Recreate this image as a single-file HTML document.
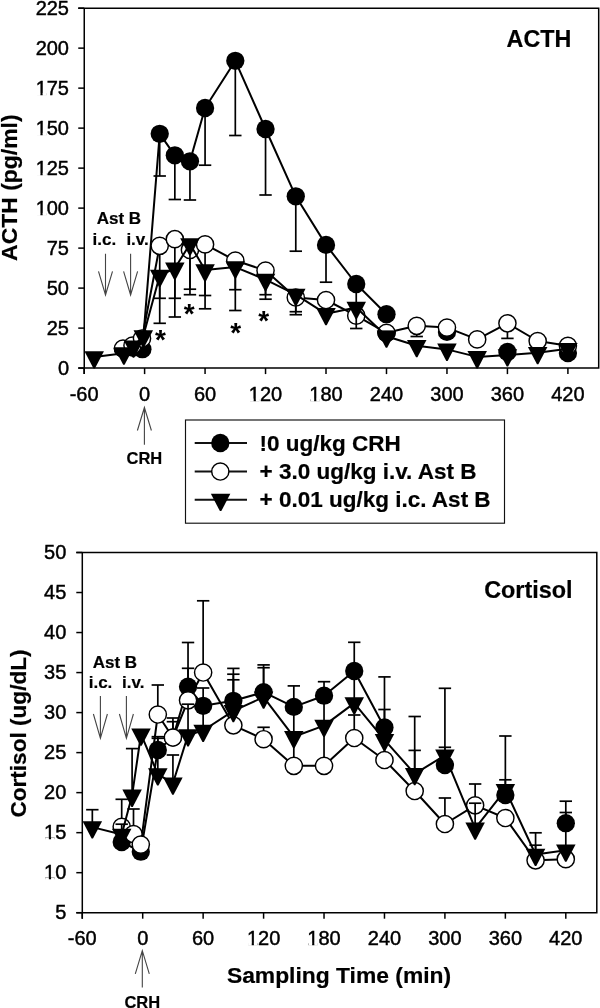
<!DOCTYPE html>
<html><head><meta charset="utf-8"><title>ACTH and Cortisol</title>
<style>html,body{margin:0;padding:0;background:#fff;}svg{display:block;font-family:"Liberation Sans",sans-serif;filter:grayscale(100%);}</style>
</head><body>
<svg width="600" height="1008" viewBox="0 0 600 1008"><rect width="600" height="1008" fill="#fff"/><g stroke="#000" stroke-width="1.5" fill="none"><path d="M78.25,8.15H598.70V368.10H78.25M84.25,8.15V374.10"/><line x1="78.25" y1="8.15" x2="84.25" y2="8.15"/><line x1="78.25" y1="48.14" x2="84.25" y2="48.14"/><line x1="78.25" y1="88.14" x2="84.25" y2="88.14"/><line x1="78.25" y1="128.13" x2="84.25" y2="128.13"/><line x1="78.25" y1="168.13" x2="84.25" y2="168.13"/><line x1="78.25" y1="208.12" x2="84.25" y2="208.12"/><line x1="78.25" y1="248.12" x2="84.25" y2="248.12"/><line x1="78.25" y1="288.11" x2="84.25" y2="288.11"/><line x1="78.25" y1="328.11" x2="84.25" y2="328.11"/><line x1="78.25" y1="368.10" x2="84.25" y2="368.10"/><line x1="84.13" y1="368.10" x2="84.13" y2="374.10"/><line x1="144.60" y1="368.10" x2="144.60" y2="374.10"/><line x1="205.07" y1="368.10" x2="205.07" y2="374.10"/><line x1="265.54" y1="368.10" x2="265.54" y2="374.10"/><line x1="326.01" y1="368.10" x2="326.01" y2="374.10"/><line x1="386.49" y1="368.10" x2="386.49" y2="374.10"/><line x1="446.96" y1="368.10" x2="446.96" y2="374.10"/><line x1="507.43" y1="368.10" x2="507.43" y2="374.10"/><line x1="567.90" y1="368.10" x2="567.90" y2="374.10"/></g><g font-family="Liberation Sans" font-size="20" text-anchor="end" fill="#000" stroke="#000" stroke-width="0.45"><text x="69.0" y="14.95">225</text><text x="69.0" y="54.94">200</text><text x="69.0" y="94.94">175</text><text x="69.0" y="134.93">150</text><text x="69.0" y="174.93">125</text><text x="69.0" y="214.92">100</text><text x="69.0" y="254.92">75</text><text x="69.0" y="294.91">50</text><text x="69.0" y="334.91">25</text><text x="69.0" y="374.90">0</text></g><g font-family="Liberation Sans" font-size="20" text-anchor="middle" fill="#000" stroke="#000" stroke-width="0.45"><text x="84.13" y="400.7">-60</text><text x="144.60" y="400.7">0</text><text x="205.07" y="400.7">60</text><text x="265.54" y="400.7">120</text><text x="326.01" y="400.7">180</text><text x="386.49" y="400.7">240</text><text x="446.96" y="400.7">300</text><text x="507.43" y="400.7">360</text><text x="567.90" y="400.7">420</text></g><g stroke="#000" stroke-width="1.5" fill="none"><path d="M76.30,552.50H596.80V912.70H76.30M82.30,552.50V918.70"/><line x1="76.30" y1="552.50" x2="82.30" y2="552.50"/><line x1="76.30" y1="592.52" x2="82.30" y2="592.52"/><line x1="76.30" y1="632.54" x2="82.30" y2="632.54"/><line x1="76.30" y1="672.57" x2="82.30" y2="672.57"/><line x1="76.30" y1="712.59" x2="82.30" y2="712.59"/><line x1="76.30" y1="752.61" x2="82.30" y2="752.61"/><line x1="76.30" y1="792.63" x2="82.30" y2="792.63"/><line x1="76.30" y1="832.66" x2="82.30" y2="832.66"/><line x1="76.30" y1="872.68" x2="82.30" y2="872.68"/><line x1="76.30" y1="912.70" x2="82.30" y2="912.70"/><line x1="82.26" y1="912.70" x2="82.26" y2="918.70"/><line x1="142.70" y1="912.70" x2="142.70" y2="918.70"/><line x1="203.14" y1="912.70" x2="203.14" y2="918.70"/><line x1="263.59" y1="912.70" x2="263.59" y2="918.70"/><line x1="324.03" y1="912.70" x2="324.03" y2="918.70"/><line x1="384.47" y1="912.70" x2="384.47" y2="918.70"/><line x1="444.91" y1="912.70" x2="444.91" y2="918.70"/><line x1="505.36" y1="912.70" x2="505.36" y2="918.70"/><line x1="565.80" y1="912.70" x2="565.80" y2="918.70"/></g><g font-family="Liberation Sans" font-size="20" text-anchor="end" fill="#000" stroke="#000" stroke-width="0.45"><text x="66.3" y="559.20">50</text><text x="66.3" y="599.22">45</text><text x="66.3" y="639.24">40</text><text x="66.3" y="679.27">35</text><text x="66.3" y="719.29">30</text><text x="66.3" y="759.31">25</text><text x="66.3" y="799.33">20</text><text x="66.3" y="839.36">15</text><text x="66.3" y="879.38">10</text><text x="66.3" y="919.40">5</text></g><g font-family="Liberation Sans" font-size="20" text-anchor="middle" fill="#000" stroke="#000" stroke-width="0.45"><text x="82.26" y="944.8">-60</text><text x="142.70" y="944.8">0</text><text x="203.14" y="944.8">60</text><text x="263.59" y="944.8">120</text><text x="324.03" y="944.8">180</text><text x="384.47" y="944.8">240</text><text x="444.91" y="944.8">300</text><text x="505.36" y="944.8">360</text><text x="565.80" y="944.8">420</text></g><g fill="#fff"><rect x="36.78" y="92.94" width="3.65" height="2.95"/><rect x="42.63" y="92.94" width="3.50" height="2.95"/><rect x="36.78" y="132.93" width="3.65" height="2.95"/><rect x="42.63" y="132.93" width="3.50" height="2.95"/><rect x="36.78" y="172.93" width="3.65" height="2.95"/><rect x="42.63" y="172.93" width="3.50" height="2.95"/><rect x="36.78" y="212.92" width="3.65" height="2.95"/><rect x="42.63" y="212.92" width="3.50" height="2.95"/><rect x="45.20" y="837.36" width="3.65" height="2.95"/><rect x="51.05" y="837.36" width="3.50" height="2.95"/><rect x="45.20" y="877.38" width="3.65" height="2.95"/><rect x="51.05" y="877.38" width="3.50" height="2.95"/><rect x="250.01" y="398.70" width="3.65" height="2.95"/><rect x="255.86" y="398.70" width="3.50" height="2.95"/><rect x="310.48" y="398.70" width="3.65" height="2.95"/><rect x="316.33" y="398.70" width="3.50" height="2.95"/><rect x="248.05" y="942.80" width="3.65" height="2.95"/><rect x="253.90" y="942.80" width="3.50" height="2.95"/><rect x="308.49" y="942.80" width="3.65" height="2.95"/><rect x="314.34" y="942.80" width="3.50" height="2.95"/></g><polyline fill="none" stroke="#000" stroke-width="2.0" stroke-linejoin="round" points="133.00,347.90 142.40,349.20 159.72,133.80 174.84,155.30 189.95,161.30 205.07,108.00 235.31,60.80 265.54,129.00 295.78,196.30 326.01,244.90 356.25,284.00 386.49,314.20"/><g stroke="#000" stroke-width="1.7"><line x1="159.72" y1="133.80" x2="159.72" y2="176.00"/><line x1="153.52" y1="176.00" x2="165.92" y2="176.00"/><line x1="174.84" y1="155.30" x2="174.84" y2="199.50"/><line x1="168.64" y1="199.50" x2="181.04" y2="199.50"/><line x1="189.95" y1="161.30" x2="189.95" y2="200.00"/><line x1="183.75" y1="200.00" x2="196.15" y2="200.00"/><line x1="205.07" y1="108.00" x2="205.07" y2="165.20"/><line x1="198.87" y1="165.20" x2="211.27" y2="165.20"/><line x1="235.31" y1="60.80" x2="235.31" y2="135.50"/><line x1="229.11" y1="135.50" x2="241.51" y2="135.50"/><line x1="265.54" y1="129.00" x2="265.54" y2="195.00"/><line x1="259.34" y1="195.00" x2="271.74" y2="195.00"/><line x1="295.78" y1="196.30" x2="295.78" y2="251.20"/><line x1="289.58" y1="251.20" x2="301.98" y2="251.20"/><line x1="326.01" y1="244.90" x2="326.01" y2="282.20"/><line x1="319.81" y1="282.20" x2="332.21" y2="282.20"/><line x1="356.25" y1="284.00" x2="356.25" y2="312.00"/><line x1="350.05" y1="312.00" x2="362.45" y2="312.00"/></g><g fill="#000"><circle cx="133.00" cy="347.90" r="9.15"/><circle cx="142.40" cy="349.20" r="9.15"/><circle cx="159.72" cy="133.80" r="9.15"/><circle cx="174.84" cy="155.30" r="9.15"/><circle cx="189.95" cy="161.30" r="9.15"/><circle cx="205.07" cy="108.00" r="9.15"/><circle cx="235.31" cy="60.80" r="9.15"/><circle cx="265.54" cy="129.00" r="9.15"/><circle cx="295.78" cy="196.30" r="9.15"/><circle cx="326.01" cy="244.90" r="9.15"/><circle cx="356.25" cy="284.00" r="9.15"/><circle cx="386.49" cy="314.20" r="9.15"/><circle cx="446.96" cy="331.90" r="9.15"/><circle cx="507.43" cy="352.00" r="9.15"/><circle cx="567.90" cy="353.00" r="9.15"/></g><polyline fill="none" stroke="#000" stroke-width="2.0" stroke-linejoin="round" points="123.00,348.50 132.50,345.50 142.00,338.50 159.72,245.80 174.84,239.20 189.95,250.00 205.07,244.40 235.31,260.50 265.54,270.50 295.78,297.50 326.01,300.00 356.25,315.70 386.49,332.80 416.72,325.80 446.96,327.60 477.19,339.40 507.43,323.30 537.67,341.00 567.90,345.80"/><g stroke="#000" stroke-width="1.7"><line x1="159.72" y1="245.80" x2="159.72" y2="298.30"/><line x1="153.52" y1="298.30" x2="165.92" y2="298.30"/><line x1="174.84" y1="239.20" x2="174.84" y2="298.30"/><line x1="168.64" y1="298.30" x2="181.04" y2="298.30"/><line x1="189.95" y1="250.00" x2="189.95" y2="289.20"/><line x1="183.75" y1="289.20" x2="196.15" y2="289.20"/><line x1="205.07" y1="244.40" x2="205.07" y2="295.50"/><line x1="198.87" y1="295.50" x2="211.27" y2="295.50"/><line x1="235.31" y1="260.50" x2="235.31" y2="289.70"/><line x1="229.11" y1="289.70" x2="241.51" y2="289.70"/><line x1="265.54" y1="270.50" x2="265.54" y2="294.70"/><line x1="259.34" y1="294.70" x2="271.74" y2="294.70"/><line x1="295.78" y1="297.50" x2="295.78" y2="311.70"/><line x1="289.58" y1="311.70" x2="301.98" y2="311.70"/><line x1="416.72" y1="325.80" x2="416.72" y2="336.50"/><line x1="410.52" y1="336.50" x2="422.92" y2="336.50"/><line x1="507.43" y1="323.30" x2="507.43" y2="338.40"/><line x1="501.23" y1="338.40" x2="513.63" y2="338.40"/></g><circle cx="123.00" cy="348.50" r="8.6" fill="#fff" stroke="#000" stroke-width="1.45"/><circle cx="132.50" cy="345.50" r="8.6" fill="#fff" stroke="#000" stroke-width="1.45"/><circle cx="142.00" cy="338.50" r="8.6" fill="#fff" stroke="#000" stroke-width="1.45"/><circle cx="159.72" cy="245.80" r="8.6" fill="#fff" stroke="#000" stroke-width="1.45"/><circle cx="174.84" cy="239.20" r="8.6" fill="#fff" stroke="#000" stroke-width="1.45"/><circle cx="189.95" cy="250.00" r="8.6" fill="#fff" stroke="#000" stroke-width="1.45"/><circle cx="205.07" cy="244.40" r="8.6" fill="#fff" stroke="#000" stroke-width="1.45"/><circle cx="235.31" cy="260.50" r="8.6" fill="#fff" stroke="#000" stroke-width="1.45"/><circle cx="265.54" cy="270.50" r="8.6" fill="#fff" stroke="#000" stroke-width="1.45"/><circle cx="295.78" cy="297.50" r="8.6" fill="#fff" stroke="#000" stroke-width="1.45"/><circle cx="326.01" cy="300.00" r="8.6" fill="#fff" stroke="#000" stroke-width="1.45"/><circle cx="356.25" cy="315.70" r="8.6" fill="#fff" stroke="#000" stroke-width="1.45"/><circle cx="386.49" cy="332.80" r="8.6" fill="#fff" stroke="#000" stroke-width="1.45"/><circle cx="416.72" cy="325.80" r="8.6" fill="#fff" stroke="#000" stroke-width="1.45"/><circle cx="446.96" cy="327.60" r="8.6" fill="#fff" stroke="#000" stroke-width="1.45"/><circle cx="477.19" cy="339.40" r="8.6" fill="#fff" stroke="#000" stroke-width="1.45"/><circle cx="507.43" cy="323.30" r="8.6" fill="#fff" stroke="#000" stroke-width="1.45"/><circle cx="537.67" cy="341.00" r="8.6" fill="#fff" stroke="#000" stroke-width="1.45"/><circle cx="567.90" cy="345.80" r="8.6" fill="#fff" stroke="#000" stroke-width="1.45"/><clipPath id="c1"><rect x="108.00" y="347.60" width="30" height="30"/></clipPath><circle cx="123.00" cy="348.50" r="9.3" clip-path="url(#c1)"/><clipPath id="c2"><rect x="371.49" y="330.80" width="30" height="30"/></clipPath><circle cx="386.49" cy="332.80" r="9.3" clip-path="url(#c2)"/><polyline fill="none" stroke="#000" stroke-width="2.0" stroke-linejoin="round" points="94.21,357.10 123.90,353.30 133.50,346.30 143.30,336.05 159.72,275.50 174.84,268.30 189.95,244.10 205.07,270.00 235.31,267.10 265.54,279.60 295.78,294.60 326.01,313.80 356.25,307.50 386.49,336.30 416.72,345.80 446.96,349.40 477.19,356.90 507.43,355.00 537.67,352.80 567.90,348.80"/><g stroke="#000" stroke-width="1.7"><line x1="159.72" y1="275.50" x2="159.72" y2="323.30"/><line x1="153.52" y1="323.30" x2="165.92" y2="323.30"/><line x1="174.84" y1="268.30" x2="174.84" y2="317.00"/><line x1="168.64" y1="317.00" x2="181.04" y2="317.00"/><line x1="189.95" y1="244.10" x2="189.95" y2="294.70"/><line x1="183.75" y1="294.70" x2="196.15" y2="294.70"/><line x1="205.07" y1="270.00" x2="205.07" y2="308.80"/><line x1="198.87" y1="308.80" x2="211.27" y2="308.80"/><line x1="235.31" y1="267.10" x2="235.31" y2="310.50"/><line x1="229.11" y1="310.50" x2="241.51" y2="310.50"/><line x1="265.54" y1="279.60" x2="265.54" y2="299.20"/><line x1="259.34" y1="299.20" x2="271.74" y2="299.20"/><line x1="295.78" y1="294.60" x2="295.78" y2="314.70"/><line x1="289.58" y1="314.70" x2="301.98" y2="314.70"/><line x1="356.25" y1="307.50" x2="356.25" y2="328.50"/><line x1="350.05" y1="328.50" x2="362.45" y2="328.50"/></g><g fill="#000"><path d="M84.46,351.30L103.96,351.30L94.91,368.60L93.51,368.60Z"/><path d="M114.15,347.50L133.65,347.50L124.60,364.80L123.20,364.80Z"/><path d="M123.75,340.50L143.25,340.50L134.20,357.80L132.80,357.80Z"/><path d="M133.55,330.25L153.05,330.25L144.00,347.55L142.60,347.55Z"/><path d="M149.97,269.70L169.47,269.70L160.42,287.00L159.02,287.00Z"/><path d="M165.09,262.50L184.59,262.50L175.54,279.80L174.14,279.80Z"/><path d="M180.20,238.30L199.70,238.30L190.65,255.60L189.25,255.60Z"/><path d="M195.32,264.20L214.82,264.20L205.77,281.50L204.37,281.50Z"/><path d="M225.56,261.30L245.06,261.30L236.01,278.60L234.61,278.60Z"/><path d="M255.79,273.80L275.29,273.80L266.24,291.10L264.84,291.10Z"/><path d="M286.03,288.80L305.53,288.80L296.48,306.10L295.08,306.10Z"/><path d="M316.26,308.00L335.76,308.00L326.71,325.30L325.31,325.30Z"/><path d="M346.50,301.70L366.00,301.70L356.95,319.00L355.55,319.00Z"/><path d="M376.74,330.50L396.24,330.50L387.19,347.80L385.79,347.80Z"/><path d="M406.97,340.00L426.47,340.00L417.42,357.30L416.02,357.30Z"/><path d="M437.21,343.60L456.71,343.60L447.66,360.90L446.26,360.90Z"/><path d="M467.44,351.10L486.94,351.10L477.89,368.40L476.49,368.40Z"/><path d="M497.68,349.20L517.18,349.20L508.13,366.50L506.73,366.50Z"/><path d="M527.92,347.00L547.42,347.00L538.37,364.30L536.97,364.30Z"/><path d="M558.15,343.00L577.65,343.00L568.60,360.30L567.20,360.30Z"/></g><polyline fill="none" stroke="#000" stroke-width="2.0" stroke-linejoin="round" points="121.70,842.00 140.80,851.70 157.81,750.00 172.92,737.50 188.03,686.70 203.14,705.80 233.36,700.80 263.59,692.20 293.81,706.90 324.03,695.70 354.25,671.00 384.47,727.50"/><g stroke="#000" stroke-width="1.7"><line x1="157.81" y1="750.00" x2="157.81" y2="736.70"/><line x1="151.61" y1="736.70" x2="164.01" y2="736.70"/><line x1="172.92" y1="737.50" x2="172.92" y2="721.70"/><line x1="166.72" y1="721.70" x2="179.12" y2="721.70"/><line x1="188.03" y1="686.70" x2="188.03" y2="642.50"/><line x1="181.83" y1="642.50" x2="194.23" y2="642.50"/><line x1="233.36" y1="700.80" x2="233.36" y2="668.40"/><line x1="227.16" y1="668.40" x2="239.56" y2="668.40"/><line x1="263.59" y1="692.20" x2="263.59" y2="664.90"/><line x1="257.39" y1="664.90" x2="269.79" y2="664.90"/><line x1="354.25" y1="671.00" x2="354.25" y2="642.30"/><line x1="348.05" y1="642.30" x2="360.45" y2="642.30"/><line x1="384.47" y1="727.50" x2="384.47" y2="676.90"/><line x1="378.27" y1="676.90" x2="390.67" y2="676.90"/><line x1="444.91" y1="765.00" x2="444.91" y2="688.30"/><line x1="438.71" y1="688.30" x2="451.11" y2="688.30"/><line x1="505.36" y1="795.00" x2="505.36" y2="736.00"/><line x1="499.16" y1="736.00" x2="511.56" y2="736.00"/><line x1="565.80" y1="823.20" x2="565.80" y2="801.20"/><line x1="559.60" y1="801.20" x2="572.00" y2="801.20"/></g><g fill="#000"><circle cx="121.70" cy="842.00" r="9.15"/><circle cx="140.80" cy="851.70" r="9.15"/><circle cx="157.81" cy="750.00" r="9.15"/><circle cx="172.92" cy="737.50" r="9.15"/><circle cx="188.03" cy="686.70" r="9.15"/><circle cx="203.14" cy="705.80" r="9.15"/><circle cx="233.36" cy="700.80" r="9.15"/><circle cx="263.59" cy="692.20" r="9.15"/><circle cx="293.81" cy="706.90" r="9.15"/><circle cx="324.03" cy="695.70" r="9.15"/><circle cx="354.25" cy="671.00" r="9.15"/><circle cx="384.47" cy="727.50" r="9.15"/><circle cx="444.91" cy="765.00" r="9.15"/><circle cx="505.36" cy="795.00" r="9.15"/><circle cx="565.80" cy="823.20" r="9.15"/></g><polyline fill="none" stroke="#000" stroke-width="2.0" stroke-linejoin="round" points="121.70,826.80 133.50,834.00 140.80,844.60 157.81,714.50 172.92,737.50 188.03,700.30 203.14,672.50 233.36,725.30 263.59,739.20 293.81,765.80 324.03,765.80 354.25,738.00 384.47,760.00 414.69,791.00 444.91,824.00 475.14,805.30 505.36,818.00 535.58,860.30 565.80,859.20"/><g stroke="#000" stroke-width="1.7"><line x1="121.70" y1="826.80" x2="121.70" y2="799.30"/><line x1="115.50" y1="799.30" x2="127.90" y2="799.30"/><line x1="133.50" y1="834.00" x2="133.50" y2="809.00"/><line x1="127.30" y1="809.00" x2="139.70" y2="809.00"/><line x1="157.81" y1="714.50" x2="157.81" y2="685.00"/><line x1="151.61" y1="685.00" x2="164.01" y2="685.00"/><line x1="172.92" y1="737.50" x2="172.92" y2="718.00"/><line x1="166.72" y1="718.00" x2="179.12" y2="718.00"/><line x1="188.03" y1="700.30" x2="188.03" y2="668.30"/><line x1="181.83" y1="668.30" x2="194.23" y2="668.30"/><line x1="203.14" y1="672.50" x2="203.14" y2="600.80"/><line x1="196.94" y1="600.80" x2="209.34" y2="600.80"/><line x1="233.36" y1="725.30" x2="233.36" y2="679.80"/><line x1="227.16" y1="679.80" x2="239.56" y2="679.80"/><line x1="263.59" y1="739.20" x2="263.59" y2="727.30"/><line x1="257.39" y1="727.30" x2="269.79" y2="727.30"/><line x1="293.81" y1="765.80" x2="293.81" y2="685.90"/><line x1="287.61" y1="685.90" x2="300.01" y2="685.90"/><line x1="324.03" y1="765.80" x2="324.03" y2="681.70"/><line x1="317.83" y1="681.70" x2="330.23" y2="681.70"/><line x1="354.25" y1="738.00" x2="354.25" y2="715.00"/><line x1="348.05" y1="715.00" x2="360.45" y2="715.00"/><line x1="384.47" y1="760.00" x2="384.47" y2="709.50"/><line x1="378.27" y1="709.50" x2="390.67" y2="709.50"/><line x1="414.69" y1="791.00" x2="414.69" y2="750.40"/><line x1="408.49" y1="750.40" x2="420.89" y2="750.40"/><line x1="444.91" y1="824.00" x2="444.91" y2="798.00"/><line x1="438.71" y1="798.00" x2="451.11" y2="798.00"/><line x1="475.14" y1="805.30" x2="475.14" y2="784.00"/><line x1="468.94" y1="784.00" x2="481.34" y2="784.00"/><line x1="535.58" y1="860.30" x2="535.58" y2="845.20"/><line x1="529.38" y1="845.20" x2="541.78" y2="845.20"/><line x1="565.80" y1="859.20" x2="565.80" y2="812.50"/><line x1="559.60" y1="812.50" x2="572.00" y2="812.50"/></g><circle cx="121.70" cy="826.80" r="8.6" fill="#fff" stroke="#000" stroke-width="1.45"/><circle cx="133.50" cy="834.00" r="8.6" fill="#fff" stroke="#000" stroke-width="1.45"/><circle cx="140.80" cy="844.60" r="8.6" fill="#fff" stroke="#000" stroke-width="1.45"/><circle cx="157.81" cy="714.50" r="8.6" fill="#fff" stroke="#000" stroke-width="1.45"/><circle cx="172.92" cy="737.50" r="8.6" fill="#fff" stroke="#000" stroke-width="1.45"/><circle cx="188.03" cy="700.30" r="8.6" fill="#fff" stroke="#000" stroke-width="1.45"/><circle cx="203.14" cy="672.50" r="8.6" fill="#fff" stroke="#000" stroke-width="1.45"/><circle cx="233.36" cy="725.30" r="8.6" fill="#fff" stroke="#000" stroke-width="1.45"/><circle cx="263.59" cy="739.20" r="8.6" fill="#fff" stroke="#000" stroke-width="1.45"/><circle cx="293.81" cy="765.80" r="8.6" fill="#fff" stroke="#000" stroke-width="1.45"/><circle cx="324.03" cy="765.80" r="8.6" fill="#fff" stroke="#000" stroke-width="1.45"/><circle cx="354.25" cy="738.00" r="8.6" fill="#fff" stroke="#000" stroke-width="1.45"/><circle cx="384.47" cy="760.00" r="8.6" fill="#fff" stroke="#000" stroke-width="1.45"/><circle cx="414.69" cy="791.00" r="8.6" fill="#fff" stroke="#000" stroke-width="1.45"/><circle cx="444.91" cy="824.00" r="8.6" fill="#fff" stroke="#000" stroke-width="1.45"/><circle cx="475.14" cy="805.30" r="8.6" fill="#fff" stroke="#000" stroke-width="1.45"/><circle cx="505.36" cy="818.00" r="8.6" fill="#fff" stroke="#000" stroke-width="1.45"/><circle cx="535.58" cy="860.30" r="8.6" fill="#fff" stroke="#000" stroke-width="1.45"/><circle cx="565.80" cy="859.20" r="8.6" fill="#fff" stroke="#000" stroke-width="1.45"/><polyline fill="none" stroke="#000" stroke-width="2.0" stroke-linejoin="round" points="92.33,827.10 121.70,834.55 132.10,795.40 141.00,734.20 157.81,774.10 172.92,783.30 188.03,735.00 203.14,730.50 233.36,710.80 263.59,697.20 293.81,736.80 324.03,725.60 354.25,703.10 384.47,739.80 414.69,773.80 444.91,755.40 475.14,828.30 505.36,789.80 535.58,854.50 565.80,850.30"/><g stroke="#000" stroke-width="1.7"><line x1="92.33" y1="827.10" x2="92.33" y2="809.70"/><line x1="86.13" y1="809.70" x2="98.53" y2="809.70"/><line x1="121.70" y1="834.55" x2="121.70" y2="824.20"/><line x1="115.50" y1="824.20" x2="127.90" y2="824.20"/><line x1="132.10" y1="795.40" x2="132.10" y2="748.60"/><line x1="125.90" y1="748.60" x2="138.30" y2="748.60"/><line x1="157.81" y1="774.10" x2="157.81" y2="738.30"/><line x1="151.61" y1="738.30" x2="164.01" y2="738.30"/><line x1="172.92" y1="783.30" x2="172.92" y2="755.00"/><line x1="166.72" y1="755.00" x2="179.12" y2="755.00"/><line x1="188.03" y1="735.00" x2="188.03" y2="704.20"/><line x1="181.83" y1="704.20" x2="194.23" y2="704.20"/><line x1="203.14" y1="730.50" x2="203.14" y2="688.00"/><line x1="196.94" y1="688.00" x2="209.34" y2="688.00"/><line x1="233.36" y1="710.80" x2="233.36" y2="674.20"/><line x1="227.16" y1="674.20" x2="239.56" y2="674.20"/><line x1="263.59" y1="697.20" x2="263.59" y2="667.70"/><line x1="257.39" y1="667.70" x2="269.79" y2="667.70"/><line x1="354.25" y1="703.10" x2="354.25" y2="666.00"/><line x1="348.05" y1="666.00" x2="360.45" y2="666.00"/><line x1="414.69" y1="773.80" x2="414.69" y2="716.50"/><line x1="408.49" y1="716.50" x2="420.89" y2="716.50"/><line x1="444.91" y1="755.40" x2="444.91" y2="747.30"/><line x1="438.71" y1="747.30" x2="451.11" y2="747.30"/><line x1="475.14" y1="828.30" x2="475.14" y2="803.20"/><line x1="468.94" y1="803.20" x2="481.34" y2="803.20"/><line x1="505.36" y1="789.80" x2="505.36" y2="779.80"/><line x1="499.16" y1="779.80" x2="511.56" y2="779.80"/><line x1="535.58" y1="854.50" x2="535.58" y2="832.80"/><line x1="529.38" y1="832.80" x2="541.78" y2="832.80"/></g><g fill="#000"><path d="M82.58,821.30L102.08,821.30L93.03,838.60L91.63,838.60Z"/><path d="M111.95,828.75L131.45,828.75L122.40,846.05L121.00,846.05Z"/><path d="M122.35,789.60L141.85,789.60L132.80,806.90L131.40,806.90Z"/><path d="M131.25,728.40L150.75,728.40L141.70,745.70L140.30,745.70Z"/><path d="M148.06,768.30L167.56,768.30L158.51,785.60L157.11,785.60Z"/><path d="M163.17,777.50L182.67,777.50L173.62,794.80L172.22,794.80Z"/><path d="M178.28,729.20L197.78,729.20L188.73,746.50L187.33,746.50Z"/><path d="M193.39,724.70L212.89,724.70L203.84,742.00L202.44,742.00Z"/><path d="M223.61,705.00L243.11,705.00L234.06,722.30L232.66,722.30Z"/><path d="M253.84,691.40L273.34,691.40L264.29,708.70L262.89,708.70Z"/><path d="M284.06,731.00L303.56,731.00L294.51,748.30L293.11,748.30Z"/><path d="M314.28,719.80L333.78,719.80L324.73,737.10L323.33,737.10Z"/><path d="M344.50,697.30L364.00,697.30L354.95,714.60L353.55,714.60Z"/><path d="M374.72,734.00L394.22,734.00L385.17,751.30L383.77,751.30Z"/><path d="M404.94,768.00L424.44,768.00L415.39,785.30L413.99,785.30Z"/><path d="M435.16,749.60L454.66,749.60L445.61,766.90L444.21,766.90Z"/><path d="M465.39,822.50L484.89,822.50L475.84,839.80L474.44,839.80Z"/><path d="M495.61,784.00L515.11,784.00L506.06,801.30L504.66,801.30Z"/><path d="M525.83,848.70L545.33,848.70L536.28,866.00L534.88,866.00Z"/><path d="M556.05,844.50L575.55,844.50L566.50,861.80L565.10,861.80Z"/></g><g font-family="Liberation Sans" font-weight="bold" font-size="28" fill="#000"><text x="154.90" y="348.70">*</text><text x="183.70" y="322.80">*</text><text x="230.30" y="342.40">*</text><text x="258.30" y="329.60">*</text></g><text font-family="Liberation Sans" font-weight="bold" stroke="#000" stroke-width="0.2" font-size="23.3" x="571.3" y="46.6" text-anchor="end">ACTH</text><text font-family="Liberation Sans" font-weight="bold" stroke="#000" stroke-width="0.2" font-size="23.4" x="572.5" y="597.7" text-anchor="end">Cortisol</text><text font-family="Liberation Sans" font-weight="bold" stroke="#000" stroke-width="0.2" font-size="22.95" transform="translate(17.3,260.9) rotate(-90)">ACTH (pg/ml)</text><text font-family="Liberation Sans" font-weight="bold" stroke="#000" stroke-width="0.2" font-size="22.6" transform="translate(26,817.6) rotate(-90)">Cortisol (ug/dL)</text><text font-family="Liberation Sans" font-weight="bold" stroke="#000" stroke-width="0.2" font-size="22.85" x="226.9" y="983.3">Sampling Time (min)</text><text font-family="Liberation Sans" font-weight="bold" stroke="#000" stroke-width="0.2" font-size="17" x="96.7" y="224.40">Ast B</text><text font-family="Liberation Sans" font-weight="bold" stroke="#000" stroke-width="0.2" font-size="17" x="92.6" y="244.50">i.c.</text><text font-family="Liberation Sans" font-weight="bold" stroke="#000" stroke-width="0.2" font-size="17" x="126.4" y="244.50">i.v.</text><g stroke="#444" stroke-width="1.1" fill="none"><path d="M105.5,253.7V295.0M98.5,271.3L105.5,295.0L112.5,271.3"/><path d="M130.6,253.7V295.0M123.6,271.3L130.6,295.0L137.6,271.3"/></g><text font-family="Liberation Sans" font-weight="bold" stroke="#000" stroke-width="0.2" font-size="17" x="92.7" y="668.00">Ast B</text><text font-family="Liberation Sans" font-weight="bold" stroke="#000" stroke-width="0.2" font-size="17" x="88.7" y="688.10">i.c.</text><text font-family="Liberation Sans" font-weight="bold" stroke="#000" stroke-width="0.2" font-size="17" x="122.0" y="688.10">i.v.</text><g stroke="#444" stroke-width="1.1" fill="none"><path d="M100.4,696.0V738.3M93.4,714.0L100.4,738.3L107.4,714.0"/><path d="M126.4,696.0V738.3M119.4,714.0L126.4,738.3L133.4,714.0"/></g><g stroke="#444" stroke-width="1.1" fill="none"><path d="M144.4,444.7V407.5M137.4,430.5L144.4,407.5L151.4,430.5"/></g><text font-family="Liberation Sans" font-weight="bold" stroke="#000" stroke-width="0.2" font-size="16.5" x="144.4" y="464.0" text-anchor="middle">CRH</text><g stroke="#444" stroke-width="1.1" fill="none"><path d="M142.3,987.6V950.6M135.3,973.8L142.3,950.6L149.3,973.8"/></g><text font-family="Liberation Sans" font-weight="bold" stroke="#000" stroke-width="0.2" font-size="16.5" x="142.3" y="1007.8" text-anchor="middle">CRH</text><rect x="185.5" y="420.0" width="319.0" height="103.2" fill="none" stroke="#111" stroke-width="1.15"/><line x1="194.7" y1="443.0" x2="247.0" y2="443.0" stroke="#111" stroke-width="1.9"/><line x1="194.7" y1="471.5" x2="247.0" y2="471.5" stroke="#111" stroke-width="1.9"/><line x1="194.7" y1="499.7" x2="247.0" y2="499.7" stroke="#111" stroke-width="1.9"/><circle cx="220.3" cy="443.0" r="9.15"/><circle cx="220.30" cy="471.50" r="8.6" fill="#fff" stroke="#000" stroke-width="1.45"/><path d="M210.85,493.80L230.35,493.80L221.30,511.10L219.90,511.10Z"/><g font-family="Liberation Sans" font-weight="bold" stroke="#000" stroke-width="0.2" font-size="22.5"><text x="259.5" y="450.8">!0 ug/kg CRH</text><text x="259.5" y="479.1">+ 3.0 ug/kg i.v. Ast B</text><text x="259.5" y="506.8">+ 0.01 ug/kg i.c. Ast B</text></g></svg>
</body></html>
